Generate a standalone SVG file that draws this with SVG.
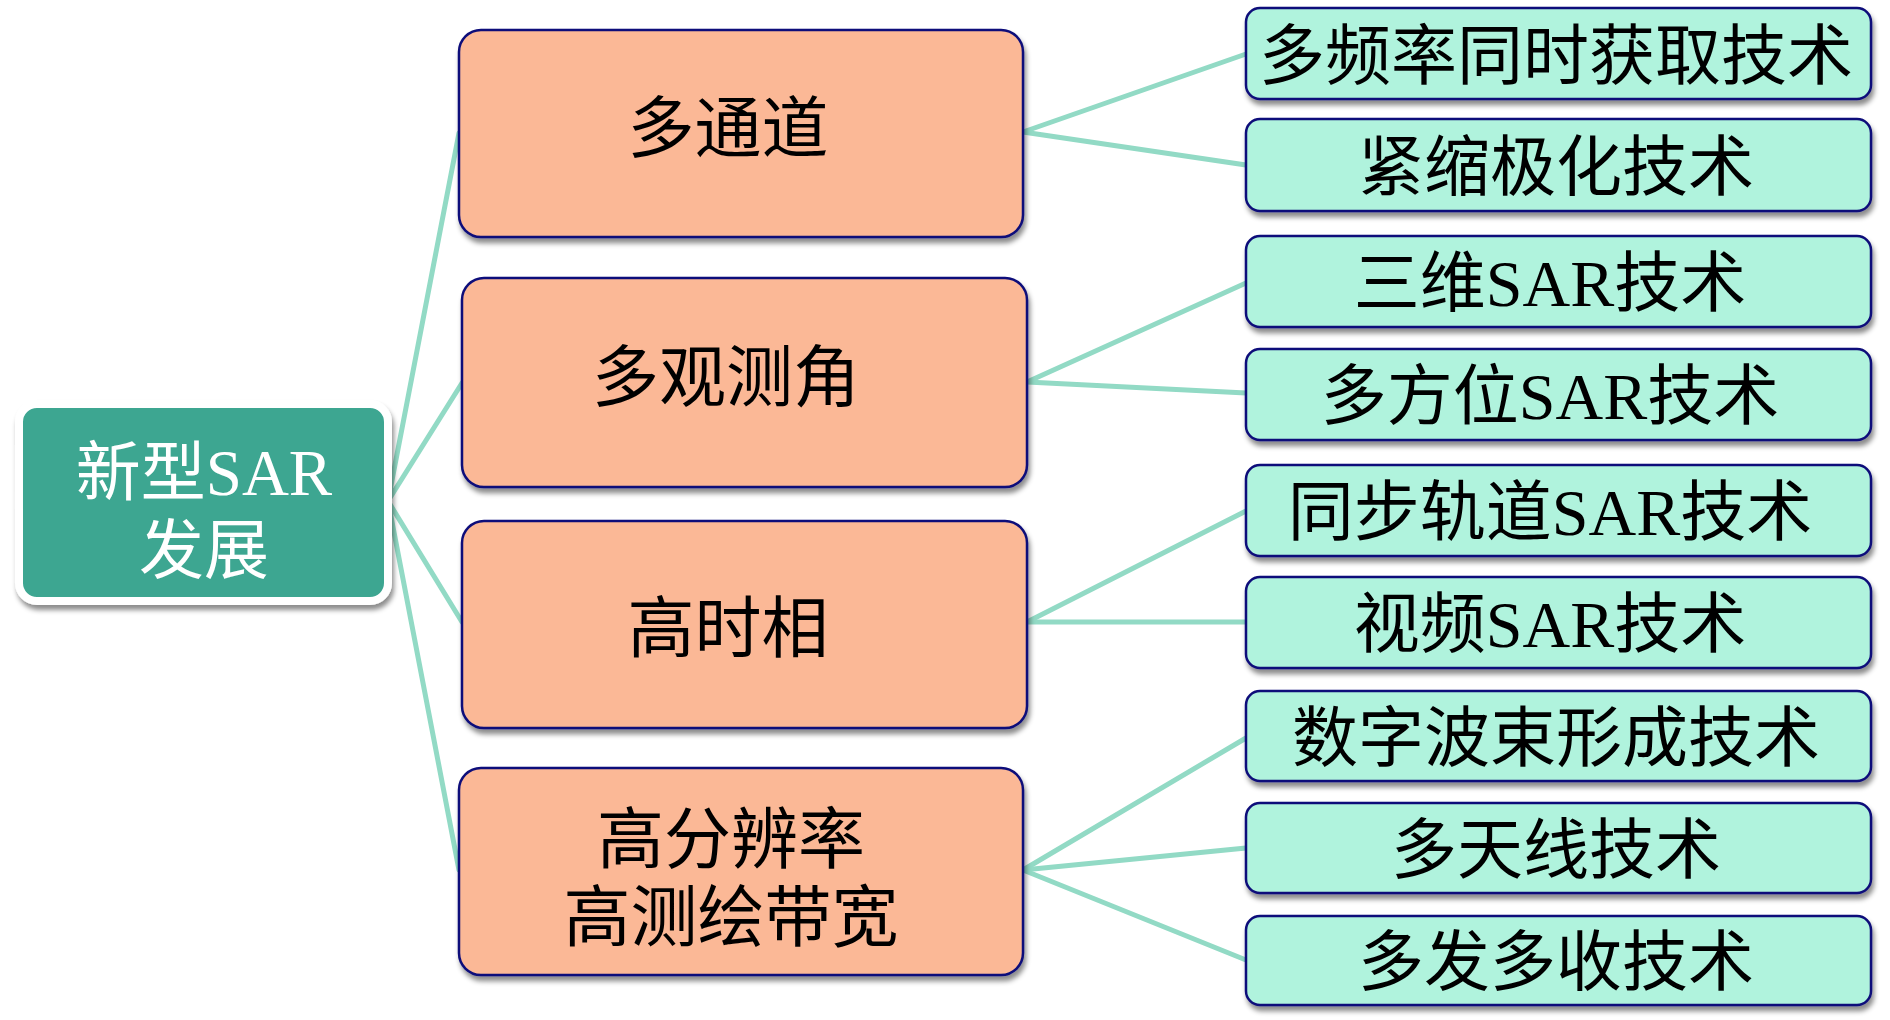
<svg xmlns="http://www.w3.org/2000/svg" width="1890" height="1020" viewBox="0 0 1890 1020">
<defs>
<filter id="sh" x="-10%" y="-10%" width="125%" height="130%">
<feDropShadow dx="2" dy="5" stdDeviation="2.5" flood-color="#000" flood-opacity="0.45"/>
</filter>
<style>
.t{font-family:"Liberation Serif","Noto Sans CJK SC",serif;text-anchor:middle;fill:#000;}
.root{fill:#3DA691;stroke:#fff;stroke-width:8;filter:url(#sh);}
.mid{fill:#FBB896;stroke:#0E0E7A;stroke-width:2.5;filter:url(#sh);}
.leaf{fill:#B0F3DD;stroke:#0E0E7A;stroke-width:2.5;filter:url(#sh);}
.c{stroke:#92DAC5;stroke-width:5;fill:none;stroke-linecap:round;}
</style>
</defs>
<rect width="1890" height="1020" fill="#fff"/>
<g id="connectors">
<line class="c" x1="388" y1="501" x2="459" y2="133"/>
<line class="c" x1="388" y1="501" x2="462" y2="383"/>
<line class="c" x1="388" y1="501" x2="462" y2="622"/>
<line class="c" x1="388" y1="501" x2="459" y2="870"/>
<line class="c" x1="1023" y1="132" x2="1246" y2="54"/>
<line class="c" x1="1023" y1="132" x2="1246" y2="165"/>
<line class="c" x1="1027" y1="382" x2="1246" y2="283"/>
<line class="c" x1="1027" y1="382" x2="1246" y2="393"/>
<line class="c" x1="1027" y1="622" x2="1246" y2="511"/>
<line class="c" x1="1027" y1="622" x2="1246" y2="622"/>
<line class="c" x1="1023" y1="870" x2="1246" y2="738"/>
<line class="c" x1="1023" y1="870" x2="1246" y2="848"/>
<line class="c" x1="1023" y1="870" x2="1246" y2="960"/>
</g>
<g id="root">
<rect class="root" x="19" y="404" width="369" height="197" rx="18"/>
<text class="t" x="204" y="495" font-size="65" style="fill:#fff">新型SAR</text>
<text class="t" x="204" y="573" font-size="65" style="fill:#fff">发展</text>
</g>
<g id="n1">
<rect class="mid" x="459" y="30" width="564" height="207" rx="22"/>
<text class="t" x="728" y="152" font-size="67">多通道</text>
</g>
<g id="n2">
<rect class="mid" x="462" y="278" width="565" height="209" rx="22"/>
<text class="t" x="726" y="401" font-size="67">多观测角</text>
</g>
<g id="n3">
<rect class="mid" x="462" y="521" width="565" height="207" rx="22"/>
<text class="t" x="728" y="652" font-size="67">高时相</text>
</g>
<g id="n4">
<rect class="mid" x="459" y="768" width="564" height="207" rx="22"/>
<text class="t" x="731" y="863" font-size="67">高分辨率</text>
<text class="t" x="731" y="941" font-size="67">高测绘带宽</text>
</g>
<g id="l1">
<rect class="leaf" x="1246" y="8" width="625" height="91" rx="14"/>
<text class="t" x="1556" y="79" font-size="66">多频率同时获取技术</text>
</g>
<g id="l2">
<rect class="leaf" x="1246" y="119" width="625" height="92" rx="14"/>
<text class="t" x="1556" y="190" font-size="66">紧缩极化技术</text>
</g>
<g id="l3">
<rect class="leaf" x="1246" y="236" width="625" height="91" rx="14"/>
<text class="t" x="1550" y="306" font-size="66">三维SAR技术</text>
</g>
<g id="l4">
<rect class="leaf" x="1246" y="349" width="625" height="91" rx="14"/>
<text class="t" x="1550" y="419" font-size="66">多方位SAR技术</text>
</g>
<g id="l5">
<rect class="leaf" x="1246" y="465" width="625" height="91" rx="14"/>
<text class="t" x="1550" y="535" font-size="66">同步轨道SAR技术</text>
</g>
<g id="l6">
<rect class="leaf" x="1246" y="577" width="625" height="91" rx="14"/>
<text class="t" x="1550" y="647" font-size="66">视频SAR技术</text>
</g>
<g id="l7">
<rect class="leaf" x="1246" y="691" width="625" height="90" rx="14"/>
<text class="t" x="1556" y="761" font-size="66">数字波束形成技术</text>
</g>
<g id="l8">
<rect class="leaf" x="1246" y="803" width="625" height="90" rx="14"/>
<text class="t" x="1556" y="873" font-size="66">多天线技术</text>
</g>
<g id="l9">
<rect class="leaf" x="1246" y="916" width="625" height="89" rx="14"/>
<text class="t" x="1556" y="985" font-size="66">多发多收技术</text>
</g>
</svg>
